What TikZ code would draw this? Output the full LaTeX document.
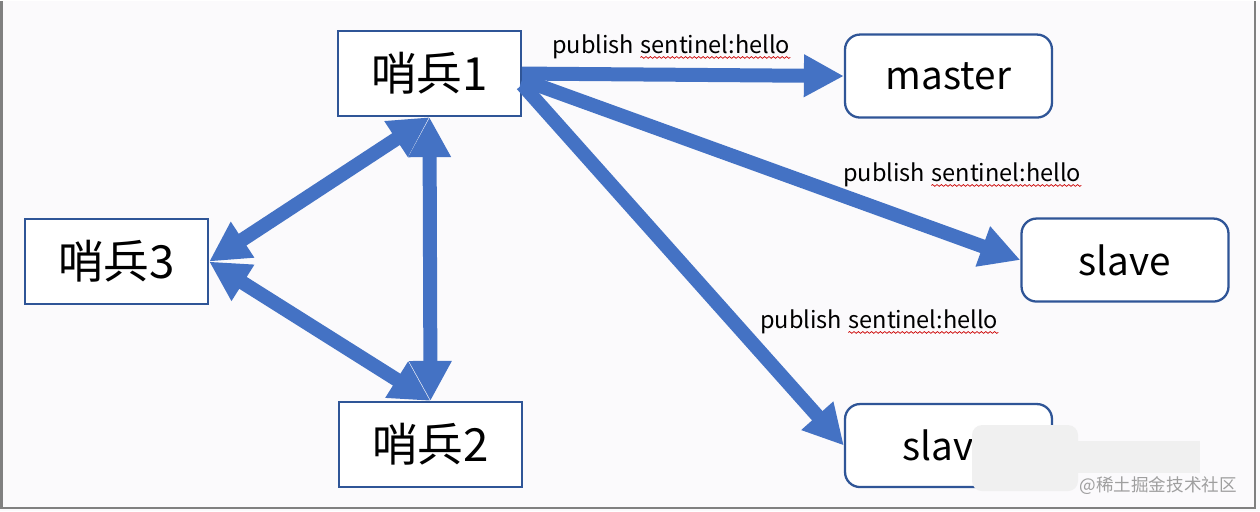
\documentclass[tikz,border=0pt]{standalone}
\usepackage{fontspec}
\setmainfont{Noto Sans CJK SC}
\usetikzlibrary{arrows.meta,positioning,decorations.pathmorphing}
\definecolor{ArrowClr}{RGB}{68,114,196}
\definecolor{BoxClr}{RGB}{47,85,151}
\definecolor{PageClr}{RGB}{251,250,252}

\begin{document}
\begin{tikzpicture}[x=0.02cm,y=-0.02cm,
  sentry/.style={draw=BoxClr,line width=1.3pt,fill=white,minimum width=3.66cm,minimum height=1.7cm,font=\fontsize{26}{30}\selectfont},
  redis/.style={draw=BoxClr,line width=1.3pt,rounded corners=0.3cm,fill=white,minimum width=4.14cm,minimum height=1.66cm,font=\fontsize{22}{26}\selectfont},
  fat/.style={draw=ArrowClr,line width=0.28cm,-{Triangle[length=0.8cm,width=0.8cm]}},
  fatboth/.style={draw=ArrowClr,line width=0.28cm,{Triangle[length=0.8cm,width=0.8cm]}-{Triangle[length=0.8cm,width=0.8cm]}},
  msg/.style={inner xsep=0pt,inner ysep=1pt,font=\fontsize{13.4}{16}\selectfont},
  squiggle/.style={draw=red!80!black,line width=0.4pt,decorate,decoration={snake,amplitude=0.5pt,segment length=2.5pt}}]

% Page and its frame.
\fill[PageClr] (0,0) rectangle (1260,510);
\draw[gray,line width=1.2pt] (1.5,0) -- (1.5,506.5) -- (1255,506.5) -- (1255,0);

% The sentinels.
\node[sentry] (s1) at (429.5,72.5) {哨兵1};
\node[sentry] (s3) at (116.5,260.5) {哨兵3};
\node[sentry] (s2) at (430.5,443.5) {哨兵2};

% The redis servers.
\node[redis] (master) at (948.5,75) {master};
\node[redis] (slaveA) at (1125,259) {slave};
\node[redis] (slaveB) at (948.5,444.5) {slave};

% Sentinels talk to each other.
\draw[fatboth] (s1.south) -- (s2.north);
\draw[fatboth] (s1.south) -- (s3.east);
\draw[fatboth] (s3.east) -- (s2.north);

% Sentinel 1 publishes to the servers.
\draw[fat] (s1.east) -- (master.west);
\draw[fat] ([yshift=-0.12cm]s1.east) -- (slaveA.west);
\draw[fat] ([yshift=-0.22cm]s1.east) -- (slaveB.west);

\node[msg,anchor=base west] (pubA) at (552,52) {publish};
\node[msg,base right=3.2pt of pubA] (helloA) {sentinel:hello};
\node[msg,anchor=base west] (pubB) at (843,180) {publish};
\node[msg,base right=3.2pt of pubB] (helloB) {sentinel:hello};
\node[msg,anchor=base west] (pubC) at (760,327) {publish};
\node[msg,base right=3.2pt of pubC] (helloC) {sentinel:hello};

\foreach \w in {helloA,helloB,helloC}
  \draw[squiggle] ([yshift=-2.5pt]\w.base west) -- ([yshift=-2.5pt]\w.base east);

% Watermark.
\fill[gray!12,rounded corners=0.2cm] (972,424) rectangle (1078,490);
\fill[gray!12] (1040,440) rectangle (1200,472);
\node[font=\fontsize{10}{12}\selectfont,text=gray!75,anchor=east] (mark) at (1243,484) {@稀土掘金技术社区};
\end{tikzpicture}
\end{document}
